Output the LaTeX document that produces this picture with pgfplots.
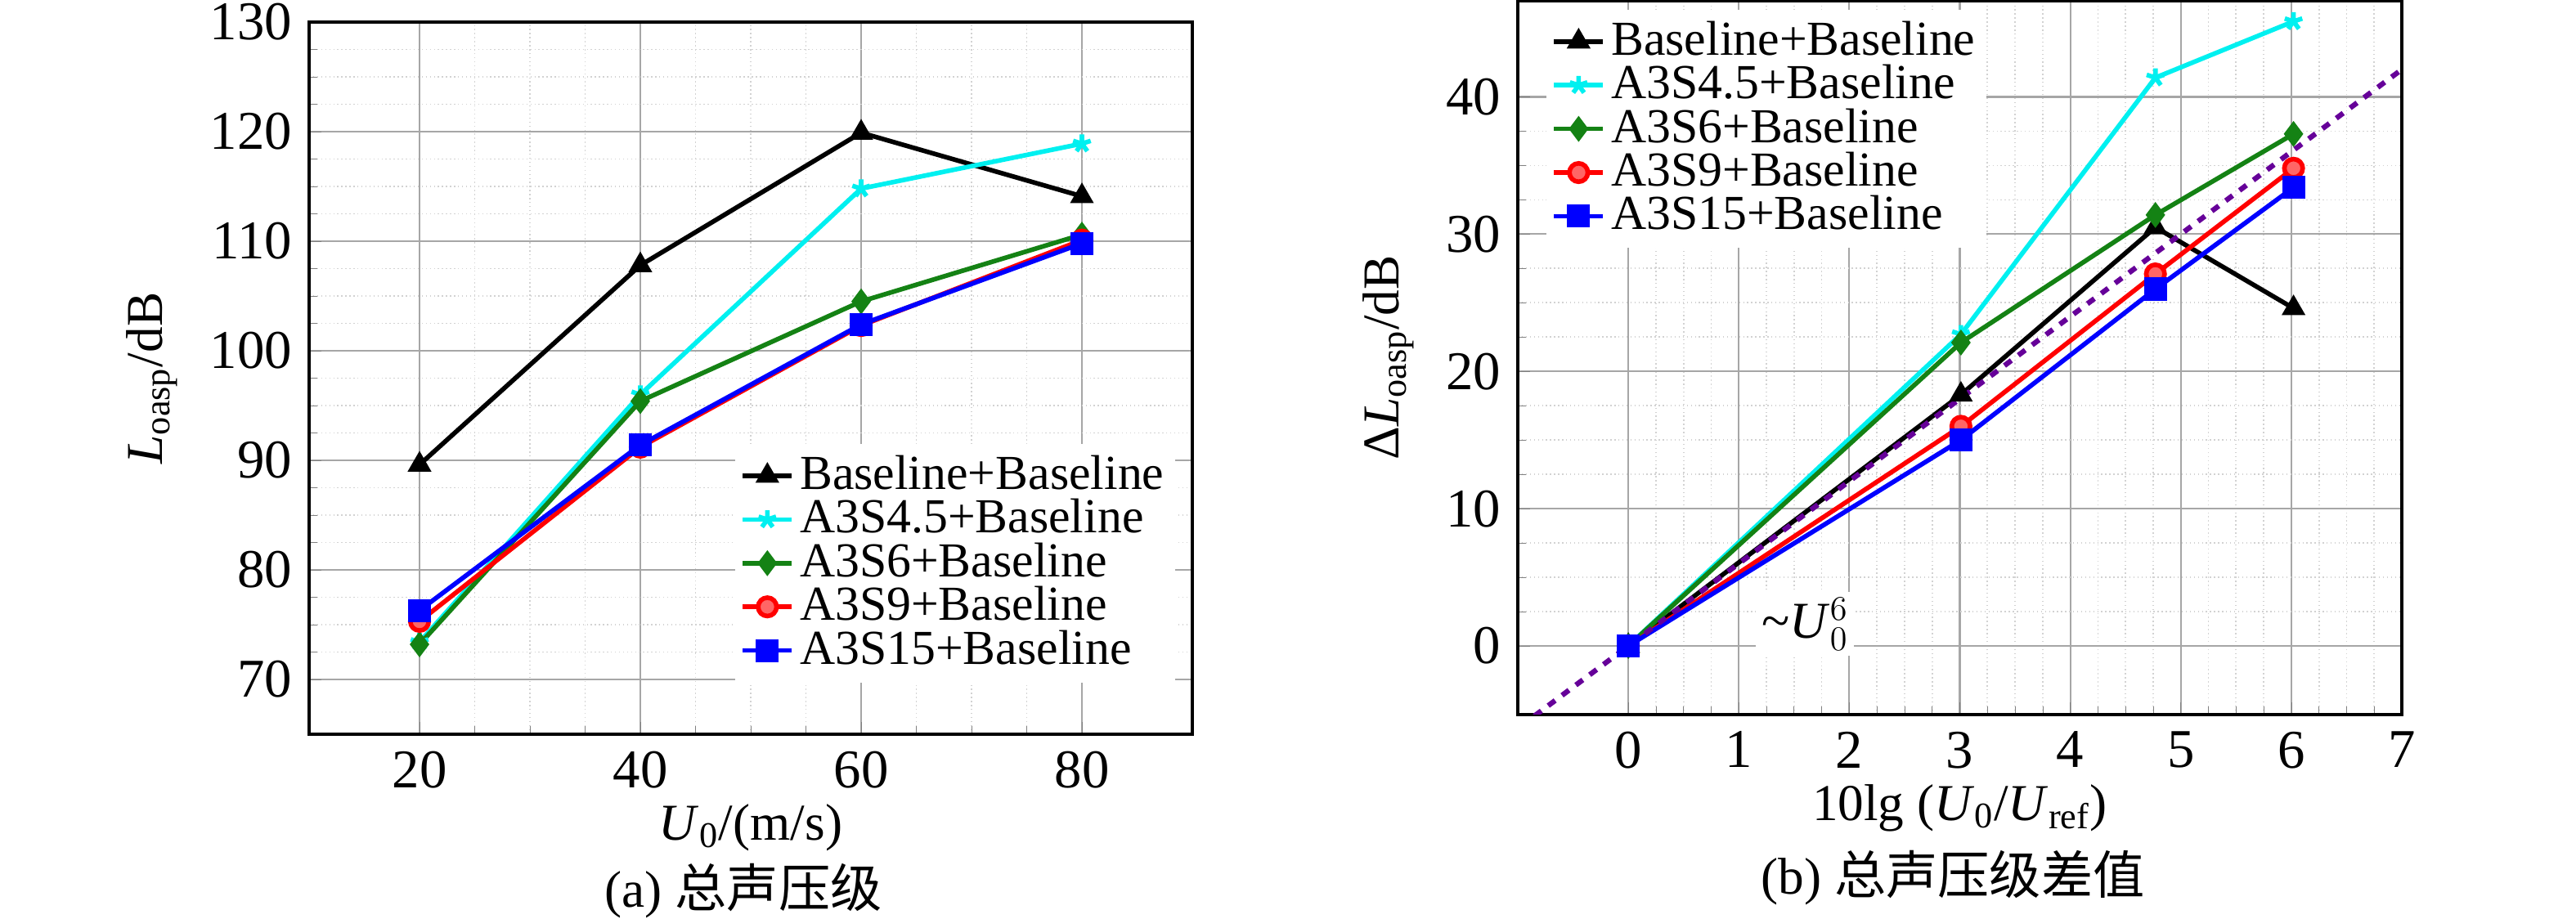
\documentclass[border=0pt]{standalone}
\usepackage{pgfplots}
\pgfplotsset{compat=1.18}
\usepackage{fontspec}
\setmainfont{Liberation Serif}
\newfontfamily\cjk{Noto Sans CJK SC}
\definecolor{cy}{RGB}{0,240,240}
\definecolor{gr}{RGB}{20,130,20}
\begin{document}
\fontsize{16}{18}\selectfont
\begin{tikzpicture}
\useasboundingbox (0,0) rectangle (31.5,11.24);
\pgfplotsset{every axis/.style={scale only axis, line width=1.2pt,
  /pgf/number format/assume math mode=true,
  tick label style={font=\fontsize{19}{21}\selectfont},
  label style={font=\fontsize{18}{20}\selectfont},
  xlabel style={yshift=0.2cm},
  legend style={font=\fontsize{17}{18}\selectfont, draw=none, fill=white, row sep=-3pt, inner sep=2pt, legend cell align=left},
  grid=both, major grid style={gray!70, line width=0.6pt}, minor grid style={gray!35, densely dotted, line width=0.5pt},
  minor tick num=3, tick align=inside, ytick pos=left, xtick pos=bottom,
  every axis plot/.append style={line width=1.6pt, mark size=3.2pt},
  legend image post style={mark size=3.2pt}}}
\begin{axis}[at={(3.78cm,2.26cm)}, anchor=south west, width=10.8cm, height=8.71cm,
  xmin=10, xmax=90, ymin=65, ymax=130, xtick={20,40,60,80}, ytick={70,80,...,130},
  xlabel={\textit{U}\textsubscript{0}/(m/s)}, ylabel={\textit{L}\textsubscript{oasp}/dB},
  legend style={at={(0.48,0.41)}, anchor=north west}]
\addplot[black, mark=triangle*] coordinates {(20,89.6)(40,107.8)(60,119.9)(80,114.1)};
\addplot[cy, mark=star] coordinates {(20,73.4)(40,96.0)(60,114.8)(80,118.9)};
\addplot[gr, mark=diamond*, mark options={fill=gr}] coordinates {(20,73.2)(40,95.4)(60,104.5)(80,110.6)};
\addplot[red, mark=*, mark options={fill=red!60!white}] coordinates {(20,75.3)(40,91.2)(60,102.3)(80,110.1)};
\addplot[blue, mark=square*] coordinates {(20,76.3)(40,91.4)(60,102.4)(80,109.8)};
\legend{Baseline+Baseline, A3S4.5+Baseline, A3S6+Baseline, A3S9+Baseline, A3S15+Baseline}
\end{axis}
\begin{axis}[at={(18.56cm,2.50cm)}, anchor=south west, width=10.81cm, height=8.73cm,
  xmin=-1, xmax=7, ymin=-5, ymax=47, xtick={0,...,7}, ytick={0,10,...,40},
  xlabel={10lg (\textit{U}\textsubscript{0}/\textit{U}\textsubscript{ref})}, ylabel={Δ\textit{L}\textsubscript{oasp}/dB},
  legend style={at={(0.03,0.99)}, anchor=north west}]
\addplot[black, mark=triangle*] coordinates {(0,0)(3.01,18.3)(4.77,30.5)(6.02,24.6)};
\addplot[cy, mark=star] coordinates {(0,0)(3.01,22.7)(4.77,41.4)(6.02,45.5)};
\addplot[gr, mark=diamond*, mark options={fill=gr}] coordinates {(0,0)(3.01,22.1)(4.77,31.4)(6.02,37.3)};
\addplot[red, mark=*, mark options={fill=red!60!white}] coordinates {(0,0)(3.01,16.0)(4.77,27.1)(6.02,34.8)};
\addplot[blue, mark=square*] coordinates {(0,0)(3.01,15.0)(4.77,26.0)(6.02,33.4)};
\addplot[violet!80!blue, dashed, line width=1.8pt, forget plot] coordinates {(-0.85,-5.1)(7,42)};
\legend{Baseline+Baseline, A3S4.5+Baseline, A3S6+Baseline, A3S9+Baseline, A3S15+Baseline}
\node[fill=white, inner sep=2pt, font=\fontsize{18}{20}\selectfont] at (axis cs:1.6,1.6) {\textasciitilde\textit{U}$^{6}_{0}$};
\end{axis}
\node[font=\fontsize{18}{20}\selectfont] at (9.09,0.34) {(a) {\cjk 总声压级}};
\node[font=\fontsize{18}{20}\selectfont] at (23.88,0.5) {(b) {\cjk 总声压级差值}};
\end{tikzpicture}
\end{document}
